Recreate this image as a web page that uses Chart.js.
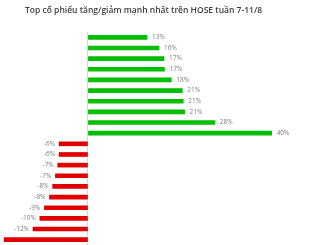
<!DOCTYPE html>
<html>
<head>
<meta charset="utf-8">
<script src="https://cdn.jsdelivr.net/npm/chart.js@4"></script>
<style>
  html, body { margin: 0; padding: 0; background: #fff; }
  #wrap { width: 326px; height: 245px; }
</style>
</head>
<body>
<div id="wrap"><canvas id="chart" width="326" height="245"></canvas></div>
<script>
const chartTitle = "Top cổ phiếu tăng/giảm mạnh nhất trên HOSE tuần 7-11/8";
// top to bottom, gainers then losers
const gainers = [12.9, 15.5, 16.6, 16.7, 18.2, 20.6, 20.8, 21.1, 27.7, 40.1];
const losers = [-6.3, -6.3, -6.6, -7.1, -7.7, -8.4, -9.5, -10.5, -12.0, -18.3];
const values = gainers.concat(losers);
const categories = values.map((v, i) => "r" + (i + 1));

const upColor = "#00bf00";
const downColor = "#e00000";

const titlePlugin = {
  id: "titleText",
  afterDraw(chart) {
    const ctx = chart.ctx;
    ctx.save();
    ctx.fillStyle = "#404040";
    ctx.font = "600 8.5px 'Open Sans'";
    ctx.textBaseline = "middle";
    ctx.fillText(chartTitle, 25, 11);
    ctx.restore();
  },
};

const valueLabels = {
  id: "valueLabels",
  afterDatasetsDraw(chart) {
    const ctx = chart.ctx;
    const meta = chart.getDatasetMeta(0);
    ctx.save();
    ctx.fillStyle = "#7f7f7f";
    ctx.font = "6.5px 'Open Sans'";
    ctx.textBaseline = "middle";
    meta.data.forEach((bar, i) => {
      const v = values[i];
      const txt = Math.round(v) + "%";
      if (v >= 0) {
        ctx.textAlign = "left";
        ctx.fillText(txt, bar.x + 5, bar.y);
      } else {
        ctx.textAlign = "right";
        ctx.fillText(txt, bar.x - 4, bar.y);
      }
    });
    ctx.restore();
  },
};

new Chart(document.getElementById("chart").getContext("2d"), {
  type: "bar",
  data: {
    labels: categories,
    datasets: [{
      data: values,
      backgroundColor: values.map((v) => (v >= 0 ? upColor : downColor)),
      barThickness: 4,
      borderSkipped: false,
    }],
  },
  options: {
    indexAxis: "y",
    responsive: false,
    animation: false,
    layout: { padding: { top: 32, right: 9, bottom: 0, left: 0 } },
    plugins: {
      legend: { display: false },
      tooltip: { enabled: false },
    },
    scales: {
      x: {
        min: -19.2,
        max: 50,
        ticks: { display: false, stepSize: 1 },
        border: { display: false },
        grid: {
          drawTicks: false,
          color(c) {
            return c.tick && c.tick.value === 0 ? "#d9d9d9" : "rgba(0,0,0,0)";
          },
        },
      },
      y: {
        display: false,
      },
    },
  },
  plugins: [titlePlugin, valueLabels],
});
</script>
</body>
</html>
